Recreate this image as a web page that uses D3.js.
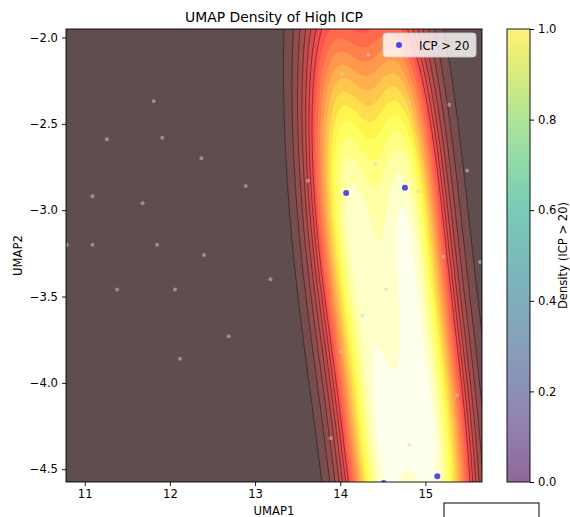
<!DOCTYPE html>
<html>
<head>
<meta charset="utf-8">
<style>
body { margin: 0; background: #fff; }
svg text { font-family: "DejaVu Sans", sans-serif; fill: #000; }
</style>
<script src="https://d3js.org/d3.v7.min.js"></script>
</head>
<body>
<svg width="570" height="517"></svg>
<script>
// all patients, UMAP coordinates (grey background points)
var allX = [11.81, 11.26, 11.91, 12.37, 12.89, 11.09, 11.68, 11.09, 11.85, 12.40, 10.79,
            11.38, 12.06, 13.18, 12.69, 12.12, 14.33, 14.02, 14.80, 15.28, 15.49, 13.62,
            14.41, 14.92, 15.21, 14.54, 14.26, 14.01, 15.37, 13.89, 14.81, 15.64];
var allY = [-2.37, -2.59, -2.58, -2.70, -2.86, -2.92, -2.96, -3.20, -3.20, -3.26, -3.20,
            -3.46, -3.46, -3.40, -3.73, -3.86, -2.10, -2.21, -2.38, -2.39, -2.77, -2.83,
            -2.73, -2.89, -3.27, -3.46, -3.61, -3.82, -4.07, -4.32, -4.36, -3.30];

// patients with ICP > 20
var highX = [14.07, 14.76, 15.14, 14.51];
var highY = [-2.90, -2.87, -4.54, -4.58];

var xTicks = [11, 12, 13, 14, 15];
var yTicks = [-2.0, -2.5, -3.0, -3.5, -4.0, -4.5];
var cbTicks = [0.0, 0.2, 0.4, 0.6, 0.8, 1.0];
var levels = d3.range(0, 1.0001, 0.05);

// gaussian kernel covariance (UMAP units)
var kVarX = 0.0984, kVarY = 0.64, kCov = -0.096;

var svg = d3.select("svg"),
    margin = {top: 29, left: 66},
    width = 416, height = 453;

var x = d3.scaleLinear().domain([10.78, 15.665]).range([margin.left, margin.left + width]);
var y = d3.scaleLinear().domain([-4.574, -1.951]).range([margin.top + height, margin.top]);

function hot(t) {
  var r = Math.min(1, 0.0416 + t / 0.365079 * 0.9584),
      g = Math.max(0, Math.min(1, (t - 0.365079) / 0.380953)),
      b = Math.max(0, Math.min(1, (t - 0.746032) / 0.253968));
  return [r, g, b];
}
function overWhite(c, a) {
  return d3.rgb(255 * (c[0] * a + 1 - a), 255 * (c[1] * a + 1 - a), 255 * (c[2] * a + 1 - a)).formatHex();
}

// density on a grid
var gx0 = 10.0, gx1 = 16.6, gy0 = -6.2, gy1 = -1.2, n = 240, m = 220;
var dxs = (gx1 - gx0) / (n - 1), dys = (gy1 - gy0) / (m - 1);
var det = kVarX * kVarY - kCov * kCov;
var values = new Float64Array(n * m);
for (var j = 0; j < m; j++) {
  var py = gy1 - j * dys;
  for (var i = 0; i < n; i++) {
    var px = gx0 + i * dxs, s = 0;
    for (var k = 0; k < highX.length; k++) {
      var ddx = px - highX[k], ddy = py - highY[k];
      s += Math.exp(-0.5 * (kVarY * ddx * ddx - 2 * kCov * ddx * ddy + kVarX * ddy * ddy) / det);
    }
    values[i + j * n] = s;
  }
}
var vmax = d3.max(values);
for (var q = 0; q < values.length; q++) values[q] /= vmax;

var contours = d3.contours().size([n, m]).thresholds(levels.slice(1))(values);
var path = d3.geoPath(d3.geoTransform({
  point: function(cx, cy) { this.stream.point(x(gx0 + (cx - 0.5) * dxs), y(gy1 - (cy - 0.5) * dys)); }
}));

svg.append("clipPath").attr("id", "clip")
  .append("rect").attr("x", margin.left).attr("y", margin.top).attr("width", width).attr("height", height);

var plot = svg.append("g").attr("clip-path", "url(#clip)");

plot.append("rect")
    .attr("x", margin.left).attr("y", margin.top).attr("width", width).attr("height", height)
    .attr("fill", overWhite(hot(levels[0] + 0.025), 0.7));

plot.selectAll("path.band")
  .data(contours)
  .enter().append("path")
    .attr("class", "band")
    .attr("d", path)
    .attr("fill", function(d) { return overWhite(hot(d.value + 0.025), 0.7); });

plot.selectAll("path.line")
  .data(contours.filter(function(d) { return d.value < 0.37; }))
  .enter().append("path")
    .attr("class", "line")
    .attr("d", path)
    .attr("fill", "none")
    .attr("stroke", "#000")
    .attr("stroke-opacity", 0.5)
    .attr("stroke-width", 0.8);

plot.selectAll("circle.all")
  .data(allX)
  .enter().append("circle")
    .attr("class", "all")
    .attr("cx", function(d) { return x(d); })
    .attr("cy", function(d, i) { return y(allY[i]); })
    .attr("r", 2)
    .attr("fill", "#d3d3d3")
    .attr("fill-opacity", 0.5);

plot.selectAll("circle.high")
  .data(highX)
  .enter().append("circle")
    .attr("class", "high")
    .attr("cx", function(d) { return x(d); })
    .attr("cy", function(d, i) { return y(highY[i]); })
    .attr("r", 3)
    .attr("fill", "blue")
    .attr("fill-opacity", 0.7);

// axes
var fmt = d3.format(".1f");
var gx = svg.append("g")
    .attr("transform", "translate(0," + (margin.top + height) + ")")
    .call(d3.axisBottom(x).tickValues(xTicks).tickSize(4).tickPadding(4).tickFormat(d3.format("d")));
var gy = svg.append("g")
    .attr("transform", "translate(" + margin.left + ",0)")
    .call(d3.axisLeft(y).tickValues(yTicks).tickSize(4).tickPadding(4).tickFormat(fmt));
[gx, gy].forEach(function(g) {
  g.select(".domain").remove();
  g.selectAll("text").attr("font-size", 11.6).attr("font-family", "DejaVu Sans");
  g.selectAll("line").attr("stroke-width", 0.9);
});

svg.append("rect")
    .attr("x", margin.left).attr("y", margin.top).attr("width", width).attr("height", height)
    .attr("fill", "none").attr("stroke", "#000").attr("stroke-width", 0.9);

svg.append("text")
    .attr("x", margin.left + width / 2).attr("y", 22)
    .attr("text-anchor", "middle").attr("font-size", 13.9)
    .text("UMAP Density of High ICP");
svg.append("text")
    .attr("x", margin.left + width / 2).attr("y", 515)
    .attr("text-anchor", "middle").attr("font-size", 11.6)
    .text("UMAP1");
svg.append("text")
    .attr("transform", "translate(22," + (margin.top + height / 2) + ") rotate(-90)")
    .attr("text-anchor", "middle").attr("font-size", 11.6)
    .text("UMAP2");

// legend
var legend = svg.append("g");
legend.append("rect")
    .attr("x", 383).attr("y", 33).attr("width", 93).attr("height", 24).attr("rx", 3)
    .attr("fill", "#fff").attr("fill-opacity", 0.8)
    .attr("stroke", "#ccc").attr("stroke-width", 0.8);
legend.append("circle")
    .attr("cx", 399).attr("cy", 45).attr("r", 3)
    .attr("fill", "blue").attr("fill-opacity", 0.7);
legend.append("text")
    .attr("x", 419).attr("y", 49.5).attr("font-size", 11.6)
    .text("ICP > 20");

// colorbar
var cbX = 507, cbW = 23;
var cb = d3.scaleLinear().domain([0, 1]).range([margin.top + height, margin.top]);
var grad = svg.append("defs").append("linearGradient")
    .attr("id", "cbgrad").attr("x1", 0).attr("y1", 1).attr("x2", 0).attr("y2", 0);
grad.selectAll("stop")
  .data(d3.range(0, 1.0001, 0.05))
  .enter().append("stop")
    .attr("offset", function(d) { return d; })
    .attr("stop-color", function(d) {
      var c = d3.rgb(d3.interpolateViridis(d));
      return overWhite([c.r / 255, c.g / 255, c.b / 255], 0.6);
    });
svg.append("rect")
    .attr("x", cbX).attr("y", margin.top).attr("width", cbW).attr("height", height)
    .attr("fill", "url(#cbgrad)")
    .attr("stroke", "#000").attr("stroke-width", 0.9);
var gcb = svg.append("g")
    .attr("transform", "translate(" + (cbX + cbW) + ",0)")
    .call(d3.axisRight(cb).tickValues(cbTicks).tickSize(4).tickPadding(4).tickFormat(fmt));
gcb.select(".domain").remove();
gcb.selectAll("text").attr("font-size", 11.6).attr("font-family", "DejaVu Sans");
svg.append("text")
    .attr("transform", "translate(567," + (margin.top + height / 2) + ") rotate(-90)")
    .attr("text-anchor", "middle").attr("font-size", 11.6)
    .text("Density (ICP > 20)");

// empty box peeking in at the bottom right
svg.append("rect")
    .attr("x", 444).attr("y", 503).attr("width", 95).attr("height", 30)
    .attr("fill", "#fff").attr("stroke", "#000").attr("stroke-width", 1);
</script>
</body>
</html>
